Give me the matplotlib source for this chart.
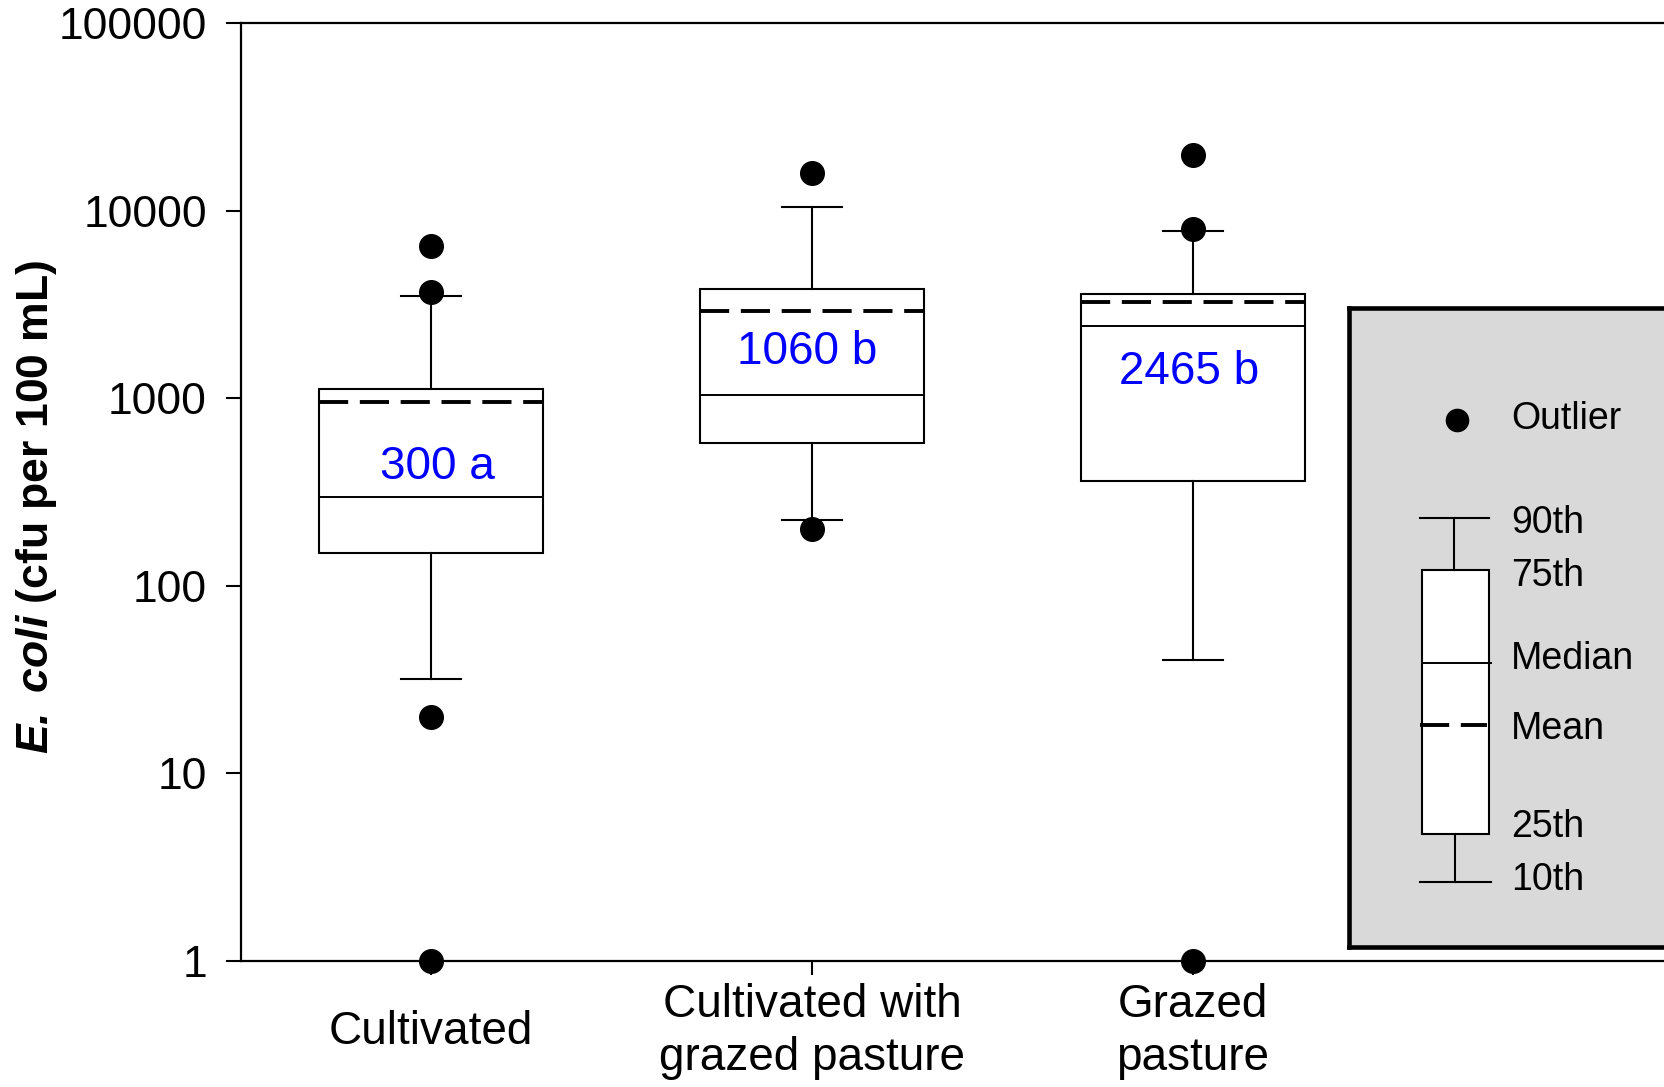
import matplotlib
matplotlib.use("Agg")
import matplotlib.pyplot as plt
from matplotlib.patches import Rectangle
from matplotlib.ticker import FixedLocator, NullLocator, FixedFormatter

plt.rcParams['font.family'] = ['Liberation Sans', 'DejaVu Sans']
plt.rcParams['mathtext.fontset'] = 'custom'
plt.rcParams['mathtext.rm'] = 'Liberation Sans'
plt.rcParams['mathtext.bf'] = 'Liberation Sans:bold'
plt.rcParams['mathtext.bfit'] = 'Liberation Sans:bold:italic'
plt.rcParams['mathtext.it'] = 'Liberation Sans:italic'

# ---------------- data ----------------
categories = ["Cultivated", "Cultivated with\ngrazed pasture", "Grazed\npasture"]
p10 = [32, 224, 40]
q25 = [149, 580, 362]
median = [298, 1045, 2440]
mean = [955, 2900, 3250]
q75 = [1120, 3800, 3600]
p90 = [3500, 10500, 7800]
outliers = [[6500, 3700, 20, 1], [15800, 200], [19800, 8000, 1]]
annotations = ["300 a", "1060 b", "2465 b"]
ann_y = [432, 1755, 1385]
ann_dx = [0.016, -0.013, -0.01]
ytick_vals = [1, 10, 100, 1000, 10000, 100000]
ytick_labels = ["1", "10", "100", "1000", "10000", "100000"]

W, H = 1665, 1087
fig = plt.figure(figsize=(W / 100, H / 100), dpi=100)
ax_right_px = 1680
ax = fig.add_axes([241 / W, (H - 961) / H, (ax_right_px - 241) / W, (961 - 23) / H])

stats = []
for i in range(len(categories)):
    stats.append(dict(med=median[i], q1=q25[i], q3=q75[i], whislo=p10[i], whishi=p90[i],
                      mean=mean[i], fliers=outliers[i], label=categories[i]))

lw = 1.5
mean_ls = (0, (7.5, 3.0))
res = ax.bxp(stats, positions=range(len(categories)), widths=0.59, capwidths=0.155,
             showmeans=True, meanline=True, showfliers=True, patch_artist=True,
             boxprops=dict(facecolor='white', edgecolor='black', linewidth=lw),
             whiskerprops=dict(color='black', linewidth=lw),
             capprops=dict(color='black', linewidth=lw),
             medianprops=dict(color='black', linewidth=1.4),
             meanprops=dict(color='black', linewidth=2.8, linestyle=mean_ls),
             flierprops=dict(marker='o', markerfacecolor='black', markeredgecolor='black',
                             markersize=17, linestyle='none'))
for fl in res['fliers']:
    fl.set_clip_on(False)
    fl.set_zorder(5)

for i, (t, yv, dx) in enumerate(zip(annotations, ann_y, ann_dx)):
    ax.text(i + dx, yv, t, color='#0000ff', fontsize=33, ha='center', va='center')

ax.set_yscale('log')
ax.set_ylim(1, 100000)
ax.set_xlim(-0.4987, (ax_right_px - 431) / 381)
ax.yaxis.set_major_locator(FixedLocator(ytick_vals))
ax.yaxis.set_major_formatter(FixedFormatter(ytick_labels))
ax.yaxis.set_minor_locator(NullLocator())
ax.set_xticks(range(len(categories)))
ax.set_xticklabels(categories, fontsize=33, va='center', ha='center', multialignment='center',
                   linespacing=1.27)
ax.tick_params(axis='y', direction='out', length=11, width=1.5, labelsize=32, pad=13.5)
ax.tick_params(axis='x', direction='out', length=10, width=1.5, pad=41)
for s in ['left', 'bottom', 'top']:
    ax.spines[s].set_linewidth(1.6)
ax.spines['right'].set_visible(False)

fig.text(37 / W, 1 - 507 / H, r'$\mathbfit{E.\ coli}$ (cfu per 100 mL)', rotation=90,
         ha='center', va='center', fontsize=32, fontweight='bold')

# ---------------- legend key ----------------
lx0, lx1, ly0, ly1 = 1349, 1720, 308, 947
lg = fig.add_axes([lx0 / W, (H - ly1) / H, (lx1 - lx0) / W, (ly1 - ly0) / H])
lg.set_facecolor('#d9d9d9')
lg.set_xlim(lx0, lx1)
lg.set_ylim(ly1, ly0)
lg.set_xticks([])
lg.set_yticks([])
for s in lg.spines.values():
    s.set_linewidth(3.3)

lg.plot([1457], [420], 'o', color='black', markersize=16)
lg.add_patch(Rectangle((1422, 570), 67, 264, facecolor='white', edgecolor='black', linewidth=lw))
lg.plot([1454, 1454], [518, 570], color='black', linewidth=lw)
lg.plot([1420, 1489], [518, 518], color='black', linewidth=lw)
lg.plot([1455, 1455], [834, 882], color='black', linewidth=lw)
lg.plot([1420, 1491], [882, 882], color='black', linewidth=lw)
lg.plot([1422, 1491], [663, 663], color='black', linewidth=1.4)
lg.plot([1420, 1487], [725, 725], color='black', linewidth=2.8, linestyle=mean_ls)

key_labels = ["Outlier", "90th", "75th", "Median", "Mean", "25th", "10th"]
key_y = [419, 523, 576, 659, 729, 827, 880]
for t, yv in zip(key_labels, key_y):
    lg.text(1511, yv, t, fontsize=27, ha='left', va='center')

fig.savefig('out.png', dpi=100)
